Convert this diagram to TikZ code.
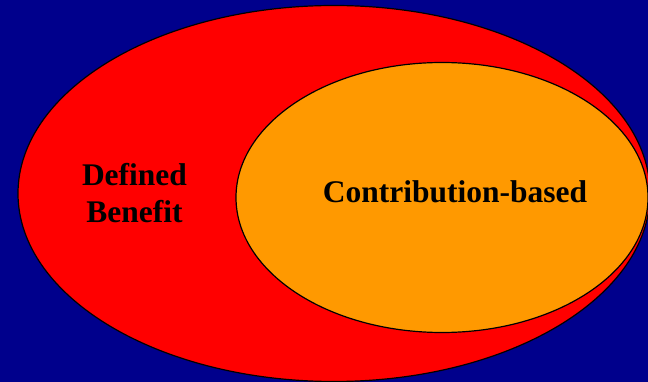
\documentclass[tikz,border=0pt]{standalone}
\usepackage{fontspec}
\setmainfont{Liberation Serif}
\definecolor{bgblue}{RGB}{0,0,140}
\definecolor{dbred}{RGB}{255,0,0}
\definecolor{cborange}{RGB}{255,153,0}
\begin{document}
\begin{tikzpicture}[x=1pt,y=-1pt,
  region/.style={draw=black,line width=1.2pt},
  label/.style={font=\fontsize{31.5}{37}\selectfont\bfseries,text=black,inner sep=0pt,align=center}]
  % backdrop and frame
  \fill[bgblue] (0,0) rectangle (648,382);
  \useasboundingbox (0,0) rectangle (648,382);
  \clip (0,0) rectangle (648,382);
  % outer set
  \draw[region,fill=dbred] (334,193.5) ellipse [x radius=316pt, y radius=188pt];
  % inner set
  \draw[region,fill=cborange] (442,197.5) ellipse [x radius=206pt, y radius=135pt];
  % set labels
  \node[label] (db) at (134.5,193) {Defined\\Benefit};
  \node[label,anchor=base] (cb) at (455,203) {Contribution-based};
\end{tikzpicture}
\end{document}
